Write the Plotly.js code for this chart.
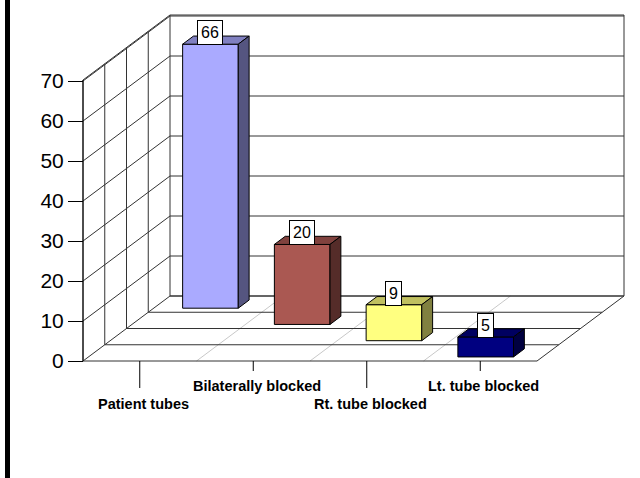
<!DOCTYPE html>
<html><head><meta charset="utf-8">
<script src="https://cdn.plot.ly/plotly-3.0.1.min.js"></script>
<style>html,body{margin:0;padding:0;background:#fff}#chart{width:640px;height:478px}</style>
</head><body><div id="chart"></div>
<script>
const categories = ['Patient tubes', 'Bilaterally blocked', 'Rt. tube blocked', 'Lt. tube blocked'];
const values = [66, 20, 9, 5];
const yTicks = [0, 10, 20, 30, 40, 50, 60, 70];
const frontColors = ['#AAAAFF', '#AA5852', '#FFFF80', '#000080'];
const topColors = ['#8080C0', '#80423E', '#C0C060', '#000060'];
const sideColors = ['#555580', '#552C29', '#808040', '#000040'];

// projection of the oblique 3D frame onto the 2D axes
const nRows = categories.length;
const KX = 21.75 / 113.5, KY = 16.25 / 4;
const BAR_W = 0.49, BAR_D = 0.5;
const yMax = 70.25;
const LINE = '#333';
function P(ip, v, d) { return [ip + d * KX, v + d * KY]; }

const traces = [];
function poly(pts, fill, lw) {
  const xs = pts.map(p => p[0]), ys = pts.map(p => p[1]);
  xs.push(xs[0]); ys.push(ys[0]);
  traces.push({type: 'scatter', mode: 'lines', x: xs, y: ys, fill: 'toself', fillcolor: fill,
    line: {color: '#000', width: lw}, hoverinfo: 'skip', showlegend: false});
}
function lines(segs, color, width) {
  const xs = [], ys = [];
  segs.forEach(s => { s.forEach(p => { xs.push(p[0]); ys.push(p[1]); }); xs.push(null); ys.push(null); });
  traces.push({type: 'scatter', mode: 'lines', x: xs, y: ys, line: {color: color, width: width},
    hoverinfo: 'skip', showlegend: false});
}

const xL = -0.5, xR = nRows - 0.5;
// walls and floor
poly([P(xL, 0, 0), P(xR, 0, 0), P(xR, 0, nRows), P(xL, 0, nRows)], '#fff', 0);
const gridSegs = [];
for (let d = 0; d <= nRows; d++) gridSegs.push([P(xL, 0, d), P(xR, 0, d)]);
gridSegs.push([P(xR, 0, 0), P(xR, 0, nRows)]);
for (let d = 0; d <= nRows; d++) gridSegs.push([P(xL, 0, d), P(xL, yMax, d)]);
yTicks.forEach(v => gridSegs.push([P(xL, v, 0), P(xL, v, nRows)]));
gridSegs.push([P(xL, yMax, 0), P(xL, yMax, nRows)]);
yTicks.forEach(v => gridSegs.push([P(xL, v, nRows), P(xR, v, nRows)]));
gridSegs.push([P(xL, yMax, nRows), P(xR, yMax, nRows)]);
gridSegs.push([P(xR, 0, nRows), P(xR, yMax, nRows)]);
const divSegs = [];
for (let k = 1; k < nRows; k++) divSegs.push([P(xL + k, 0, 0), P(xL + k, 0, nRows)]);
lines(divSegs, '#C8C8C8', 1);
lines(gridSegs, LINE, 1);
lines([[P(xL, 0, 0), P(xL, yMax, 0)]], '#000', 1);
const tickLen = [-6.75, -2.5];
lines(categories.map((c, i) => [P(i, 0, 0), P(i, tickLen[i % 2], 0)]), '#000', 1);

// bars, back to front
const annotations = [];
values.forEach((v, i) => {
  const dc = nRows - i - 0.5, df = dc - BAR_D / 2, db = dc + BAR_D / 2;
  const l = i - BAR_W / 2, r = i + BAR_W / 2;
  poly([P(l, 0, df), P(r, 0, df), P(r, v, df), P(l, v, df)], frontColors[i], 1);
  poly([P(l, v, df), P(r, v, df), P(r, v, db), P(l, v, db)], topColors[i], 1);
  poly([P(r, 0, df), P(r, 0, db), P(r, v, db), P(r, v, df)], sideColors[i], 1);
  const lp = P(i, v, df);
  annotations.push({x: lp[0], y: lp[1], xref: 'x', yref: 'y', text: String(v), showarrow: false,
    yanchor: 'bottom', yshift: -1, bgcolor: '#fff', bordercolor: '#000', borderwidth: 1, borderpad: 3,
    font: {family: 'Arial, Liberation Sans', size: 16, color: '#000'}});
});
const labelY = [-10.75, -6.25];
categories.forEach((c, i) => {
  const p = P(i, labelY[i % 2], 0);
  annotations.push({x: p[0] + 0.03, y: p[1], xref: 'x', yref: 'y', text: '<b>' + c + '</b>', showarrow: false,
    xanchor: 'center', yanchor: 'middle', font: {family: 'Arial, Liberation Sans', size: 14.5, color: '#000'}});
});

const layout = {
  width: 640, height: 478, margin: {l: 0, r: 0, t: 0, b: 0},
  paper_bgcolor: '#fff', plot_bgcolor: '#fff', showlegend: false,
  xaxis: {range: [-83 / 113.5 - 0.5, (640 - 83) / 113.5 - 0.5], visible: false, fixedrange: true},
  yaxis: {range: [(361 - 478) / 4, 361 / 4], anchor: 'free', position: 83 / 640,
    tickvals: yTicks, ticks: 'outside', ticklen: 15, tickcolor: '#000', tickwidth: 1,
    showline: false, showgrid: false, zeroline: false, fixedrange: true, ticklabelstandoff: 0,
    tickfont: {family: 'Arial, Liberation Sans', size: 21, color: '#000'}},
  annotations: annotations,
  shapes: [{type: 'rect', xref: 'paper', yref: 'paper', x0: 5 / 640, x1: 10 / 640, y0: 0, y1: 1,
    fillcolor: '#000', line: {width: 0}}]
};
Plotly.newPlot('chart', traces, layout, {staticPlot: true});
</script></body></html>
